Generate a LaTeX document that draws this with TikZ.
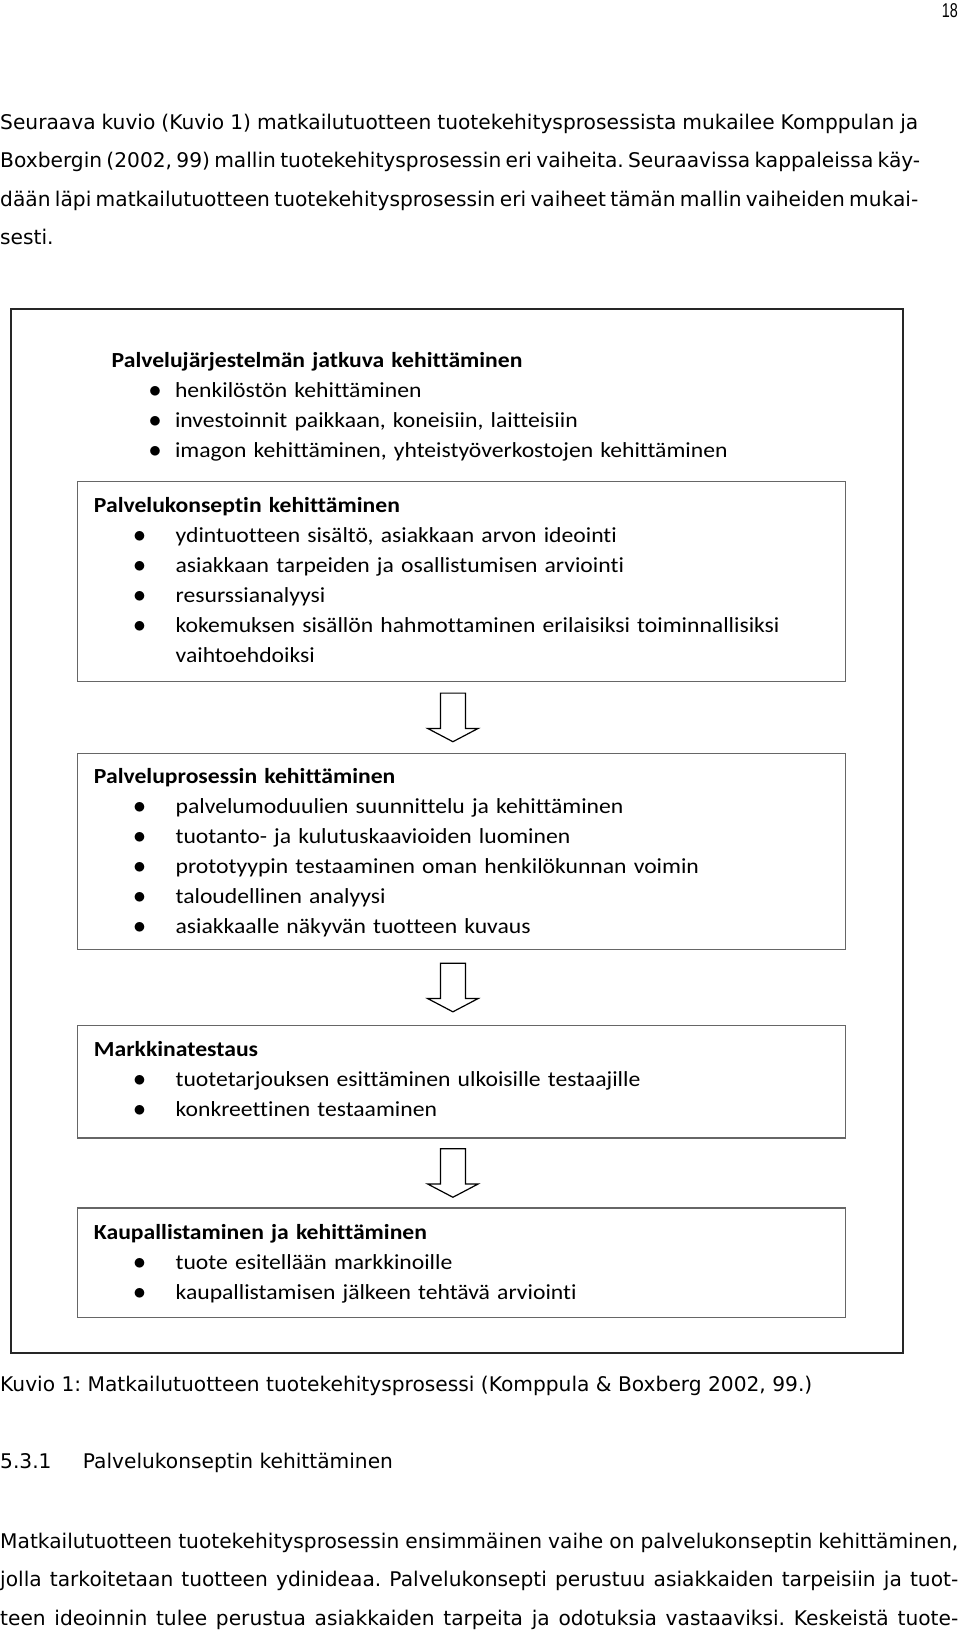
\documentclass[tikz,border=0pt]{standalone}
\usepackage{fontspec}
\setmainfont{DejaVu Sans}
\newfontfamily\kuviofont{Carlito}[FakeStretch=1.1, Ligatures=NoCommon]
\newfontfamily\sivunrofont{Liberation Sans}[FakeStretch=0.72]
\usetikzlibrary{calc}
\frenchspacing
\newcommand{\pallo}{{\fontsize{25}{25}\selectfont$\bullet$}}
\newcommand{\ylakohta}[1]{\\\hspace*{43.3pt}\makebox[0pt]{\pallo}\hspace*{20pt}#1}
\newcommand{\kohta}[1]{\\\hspace*{45.7pt}\makebox[0pt]{\pallo}\hspace*{36pt}#1}
\newcommand{\jatko}[1]{\\\hspace*{81.7pt}#1}
\begin{document}
\begin{tikzpicture}[x=1pt, y=-1pt,
    leipa/.style={inner sep=0pt, anchor=base west, font=\fontsize{20.2}{24}\selectfont},
    kehys/.style={draw=black!85, line width=2pt, anchor=north west, inner xsep=100.7pt, inner ysep=0pt, text width=690.3pt, align=left, font=\kuviofont\fontsize{21.5}{30}\selectfont},
    vaihe/.style={draw=black!60, line width=1.3pt, fill=white, anchor=north west, inner xsep=16.8pt, inner ysep=0pt, text width=734.9pt, align=left, font=\kuviofont\fontsize{21.5}{30}\selectfont},
    lohkonuoli/.pic={\draw[black, line width=1.2pt, fill=white, line join=miter]
        (-12.5,-24.3) -- (12.5,-24.3) -- (12.5,11) -- (25.3,11) -- (0,24.3) -- (-25.3,11) -- (-12.5,11) -- cycle;}]
    \fill[white] (0,0) rectangle (960,1633);
    \useasboundingbox (0,0) rectangle (960,1633);

    \node[font=\sivunrofont\fontsize{20}{22}\selectfont, anchor=base east, inner sep=0pt] (sivu) at (958,17.5) {18};

    \node[leipa] (kpl1) at (0,129.3) {\makebox[918pt][s]{Seuraava kuvio (Kuvio 1) matkailutuotteen tuotekehitysprosessista mukailee Komppulan ja}};
    \node[leipa] (kpl2) at (0,167.8) {\makebox[918pt][s]{Boxbergin (2002, 99) mallin tuotekehitysprosessin eri vaiheita. Seuraavissa kappaleissa käy-}};
    \node[leipa] (kpl3) at (0,206.3) {\makebox[918pt][s]{dään läpi matkailutuotteen tuotekehitysprosessin eri vaiheet tämän mallin vaiheiden mukai-}};
    \node[leipa] (kpl4) at (0,244.8) {sesti.};

    \node[kehys, text height=59.2pt, text depth=984.8pt] (jarjestelma) at (10,307.5) {\textbf{Palvelujärjestelmän jatkuva kehittäminen}\ylakohta{henkilöstön kehittäminen}\ylakohta{investoinnit paikkaan, koneisiin, laitteisiin}\ylakohta{imagon kehittäminen, yhteistyöverkostojen kehittäminen}};

    \node[vaihe, text height=31pt, text depth=169.3pt] (konsepti) at (76.5,480.7) {\textbf{Palvelukonseptin kehittäminen}\kohta{ydintuotteen sisältö, asiakkaan arvon ideointi}\kohta{asiakkaan tarpeiden ja osallistumisen arviointi}\kohta{resurssianalyysi}\kohta{kokemuksen sisällön hahmottaminen erilaisiksi toiminnallisiksi}\jatko{vaihtoehdoiksi}};
    \node[vaihe, text height=30.6pt, text depth=165.6pt] (prosessi) at (76.5,752.5) {\textbf{Palveluprosessin kehittäminen}\kohta{palvelumoduulien suunnittelu ja kehittäminen}\kohta{tuotanto- ja kulutuskaavioiden luominen}\kohta{prototyypin testaaminen oman henkilökunnan voimin}\kohta{taloudellinen analyysi}\kohta{asiakkaalle näkyvän tuotteen kuvaus}};
    \node[vaihe, text height=31pt, text depth=81.3pt] (testaus) at (76.5,1025) {\textbf{Markkinatestaus}\kohta{tuotetarjouksen esittäminen ulkoisille testaajille}\kohta{konkreettinen testaaminen}};
    \node[vaihe, text height=31.1pt, text depth=78.3pt] (kaupallistaminen) at (76.5,1207.3) {\textbf{Kaupallistaminen ja kehittäminen}\kohta{tuote esitellään markkinoille}\kohta{kaupallistamisen jälkeen tehtävä arviointi}};

    \coordinate (nuoli1) at ($(konsepti.south)!0.5!(prosessi.north)+(-8.5,0)$);
    \coordinate (nuoli2) at ($(prosessi.south)!0.5!(testaus.north)+(-8.5,0)$);
    \coordinate (nuoli3) at ($(testaus.south)!0.5!(kaupallistaminen.north)+(-8.5,0)$);
    \pic at (nuoli1) {lohkonuoli};
    \pic at (nuoli2) {lohkonuoli};
    \pic at (nuoli3) {lohkonuoli};

    \node[leipa] (kuvateksti) at (0,1391.5) {Kuvio 1: Matkailutuotteen tuotekehitysprosessi (Komppula \& Boxberg 2002, 99.)};
    \node[leipa] (numero) at (0,1468) {5.3.1};
    \node[leipa] (otsikko) at (82.7,1468) {Palvelukonseptin kehittäminen};
    \node[leipa] (kpl5) at (0,1548.3) {\makebox[958pt][s]{Matkailutuotteen tuotekehitysprosessin ensimmäinen vaihe on palvelukonseptin kehittäminen,}};
    \node[leipa] (kpl6) at (0,1586.7) {\makebox[958pt][s]{jolla tarkoitetaan tuotteen ydinideaa. Palvelukonsepti perustuu asiakkaiden tarpeisiin ja tuot-}};
    \node[leipa] (kpl7) at (0,1625) {\makebox[958pt][s]{teen ideoinnin tulee perustua asiakkaiden tarpeita ja odotuksia vastaaviksi. Keskeistä tuote-}};
\end{tikzpicture}
\end{document}
